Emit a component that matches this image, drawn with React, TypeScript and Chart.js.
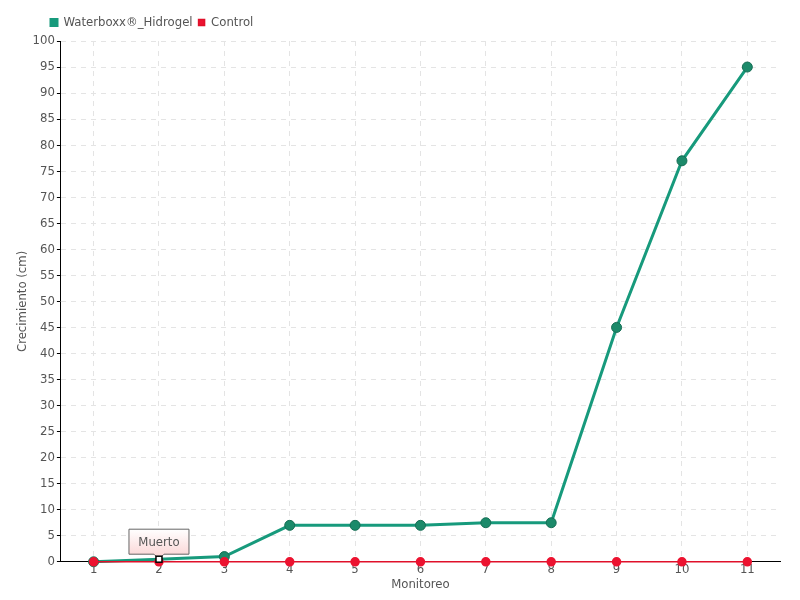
import React, { useEffect, useRef } from "react";
import { Chart, registerables } from "chart.js";

Chart.register(...registerables);

const categories = ["1", "2", "3", "4", "5", "6", "7", "8", "9", "10", "11"];
const waterboxx = [0, 0.5, 1, 7, 7, 7, 7.5, 7.5, 45, 77, 95];
const control = [0, 0, 0, 0, 0, 0, 0, 0, 0, 0, 0];
const noteIndex = 1;
const noteText = "Muerto";

const FONT = "'DejaVu Sans Condensed', 'DejaVu Sans', sans-serif";

const legendShift = {
  id: "legendShift",
  afterLayout(chart: any) {
    if (chart.legend) {
      chart.legend.left += 30;
      chart.legend.top -= 2;
    }
  },
};

const notePlugin = {
  id: "note",
  afterDatasetsDraw(chart: any) {
    const meta = chart.getDatasetMeta(0);
    const el = meta.data[noteIndex];
    if (!el) return;
    const ctx = chart.ctx;
    const x = el.x;
    const y = el.y;
    ctx.save();
    ctx.font = "13px " + FONT;
    const w = 60;
    const h = 25;
    const bx = x - w / 2;
    const by = y - 30;
    const g = ctx.createLinearGradient(0, by, 0, by + h);
    g.addColorStop(0, "#ffffff");
    g.addColorStop(1, "#fbd9d9");
    ctx.beginPath();
    ctx.moveTo(bx, by);
    ctx.lineTo(bx + w, by);
    ctx.lineTo(bx + w, by + h);
    ctx.lineTo(x + 5, by + h);
    ctx.lineTo(x, by + h + 5);
    ctx.lineTo(x - 5, by + h);
    ctx.lineTo(bx, by + h);
    ctx.closePath();
    ctx.fillStyle = g;
    ctx.fill();
    ctx.strokeStyle = "#666";
    ctx.lineWidth = 1;
    ctx.stroke();
    ctx.fillStyle = "#555";
    ctx.textAlign = "center";
    ctx.textBaseline = "middle";
    ctx.fillText(noteText, x, by + h / 2 + 1);
    ctx.fillStyle = "#fff";
    ctx.strokeStyle = "#000";
    ctx.lineWidth = 1.5;
    ctx.fillRect(x - 3, y - 3, 6, 6);
    ctx.strokeRect(x - 3, y - 3, 6, 6);
    ctx.restore();
  },
};

export default function App() {
  const ref = useRef<HTMLCanvasElement>(null);
  useEffect(() => {
    document.body.style.margin = "0";
    const chart = new Chart(ref.current!, {
      type: "line",
      data: {
        labels: categories,
        datasets: [
          {
            label: "Waterboxx®_Hidrogel",
            data: waterboxx,
            borderColor: "#179a7c",
            backgroundColor: "#179a7c",
            borderWidth: 3,
            pointRadius: waterboxx.map((_, i) => (i === noteIndex ? 0 : 5)),
            pointBackgroundColor: "#1c8a6a",
            pointBorderColor: "#166e55",
            pointBorderWidth: 1,
            order: 1,
            clip: false,
          },
          {
            label: "Control",
            data: control,
            borderColor: "#e0102a",
            backgroundColor: "#ec1330",
            borderWidth: 1.5,
            pointRadius: 4,
            pointBackgroundColor: "#ec1330",
            pointBorderColor: "#ec1330",
            order: 0,
            clip: false,
          },
        ],
      },
      options: {
        animation: false,
        responsive: false,
        layout: { padding: { top: 12, right: 20, left: 15, bottom: 8 } },
        plugins: {
          legend: {
            position: "top",
            align: "start",
            labels: {
              boxWidth: 6,
              boxHeight: 6,
              padding: 6,
              color: "#555",
              font: { family: FONT, size: 13 },
              sort: (a: any, b: any) => a.datasetIndex - b.datasetIndex,
            },
          },
          tooltip: { enabled: false },
        },
        scales: {
          x: {
            offset: true,
            grid: {
              offset: false,
              color: "#e4e4e4",
              tickLength: 0,
              drawTicks: false,
            },
            border: { color: "#000", dash: [5, 5], display: true },
            ticks: { color: "#555", font: { family: FONT, size: 13 }, padding: 0 },
            title: {
              display: true,
              text: "Monitoreo",
              color: "#555",
              font: { family: FONT, size: 13 },
              padding: { top: -1, bottom: 0 },
            },
          },
          y: {
            min: 0,
            max: 100,
            ticks: {
              stepSize: 5,
              color: "#555",
              font: { family: FONT, size: 13 },
              padding: 2,
            },
            grid: { color: "#e4e4e4", tickLength: 4, tickColor: "#000" },
            border: { color: "#000", dash: [5, 5] },
            title: {
              display: true,
              text: "Crecimiento (cm)",
              color: "#555",
              font: { family: FONT, size: 13 },
              padding: 0,
            },
          },
        },
      },
      plugins: [notePlugin, legendShift],
    } as any);
    return () => chart.destroy();
  }, []);
  return (
    <div style={{ width: 800, height: 600 }}>
      <canvas ref={ref} width={800} height={600} />
    </div>
  );
}
